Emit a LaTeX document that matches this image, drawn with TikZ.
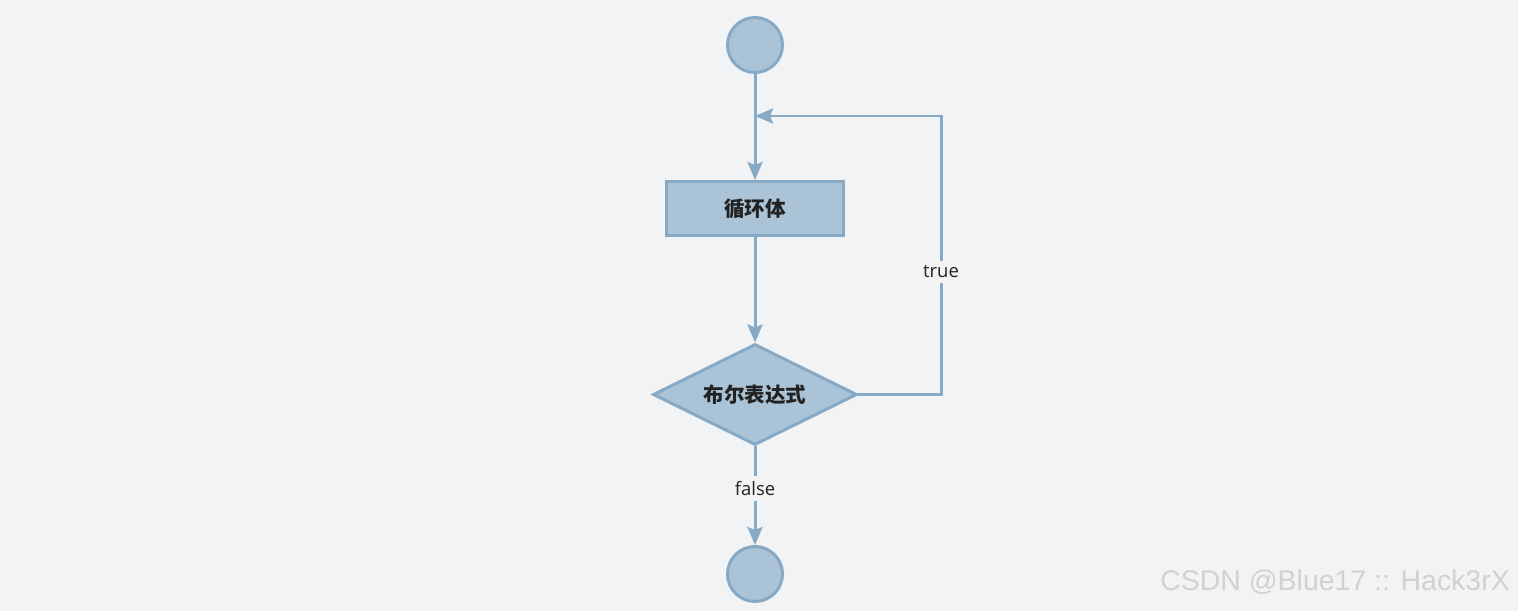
\documentclass[tikz,border=0pt]{standalone}
\usepackage{fontspec}
\setmainfont{Open Sans}
\newfontfamily\cjkfont{Noto Sans CJK SC}
\newfontfamily\markfont{Liberation Sans}
\usetikzlibrary{shapes.geometric,arrows.meta}
\definecolor{pagebg}{HTML}{F2F3F5}
\definecolor{boxfill}{HTML}{ABC3D6}
\definecolor{boxline}{HTML}{86A9C6}
\definecolor{inktext}{HTML}{222222}
\begin{document}
\begin{tikzpicture}[x=0.02cm, y=-0.02cm,
  flow/.style={draw=boxline, fill=boxfill, line width=1.7pt, text=inktext},
  terminal/.style={flow, circle, minimum size=1.1cm, inner sep=0pt},
  process/.style={flow, rectangle, minimum width=3.54cm, minimum height=1.08cm,
    font=\cjkfont\bfseries\fontsize{11.7}{14}\selectfont},
  decision/.style={flow, diamond, aspect=2, minimum width=4.08cm, minimum height=2.02cm,
    inner sep=0pt, font=\cjkfont\bfseries\fontsize{11.7}{14}\selectfont},
  link/.style={draw=boxline, line width=1.7pt,
    -{Stealth[length=3.6mm, width=3mm, inset=0.6mm]}},
  guard/.style={fill=pagebg, inner sep=3pt, text=inktext, font=\fontsize{10.5}{13}\selectfont}]
  \fill[pagebg] (0,0) rectangle (1518,611);
  \useasboundingbox (0,0) rectangle (1518,611);

  \node[terminal] (start) at (755,45) {};
  \node[process] (body) at (755,208.5) {循环体};
  \node[decision] (cond) at (755,394.5) {布尔表达式};
  \node[terminal] (stop) at (755,574) {};
  \coordinate (turn) at (941,116);
  \coordinate (merge) at (755,116);

  \draw[link] (start) -- (body);
  \draw[link] (body) -- (cond);
  \draw[link] (cond.east) -| node[guard, pos=0.72] {true} (turn) -- (merge);
  \draw[link] (cond) -- node[guard, pos=0.43] {false} (stop);

  \node[anchor=east, text=black!18, font=\markfont\fontsize{16.2}{19}\selectfont]
    (mark) at (1516,582) {CSDN @Blue17 :: Hack3rX};
\end{tikzpicture}
\end{document}
